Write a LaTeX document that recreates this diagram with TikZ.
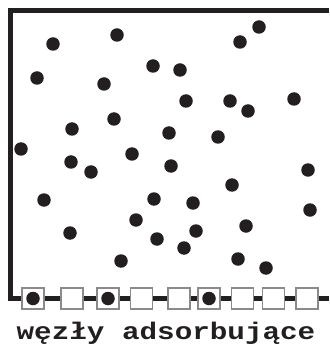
\documentclass[tikz,border=0pt]{standalone}
\usepackage{fontspec}
\newfontfamily\monob{Liberation Mono}[BoldFont={* Bold}]
\definecolor{ink}{HTML}{231F20}
\definecolor{boxedge}{HTML}{8A8A8A}
\begin{document}
\begin{tikzpicture}[x=1pt,y=-1pt,
  particle/.style={circle,fill=ink,inner sep=0pt,minimum size=13.5pt},
  site/.style={rectangle,draw=boxedge,line width=1.1pt,fill=white,inner sep=0pt,minimum width=22pt,minimum height=21pt},
  wall/.style={draw=ink,line width=4.6pt,line join=miter}]
\useasboundingbox (0,0) rectangle (329,347);
% frame corners
\coordinate (tr) at (329,10.4);
\coordinate (tl) at (10.6,10.4);
\coordinate (bl) at (10.6,298.5);
\coordinate (br) at (329,298.5);
\draw[wall] (tr) -- (tl) -- (bl) -- (br);
% adsorbing sites
\foreach \n/\x in {1/33,2/72,3/108,4/141.5,5/179,6/209,7/242.5,8/273.5,9/307}{
  \node[site] (s\n) at (\x,298.5) {};
}
\foreach \n in {1,3,6}{
  \node[particle] at (s\n) {};
}
% free particles
\foreach \n/\x/\y in {
 1/53/44, 2/117/35, 3/37/78, 4/104/84, 5/153/66, 6/180/70, 7/240/42, 8/259/27,
 9/186/101, 10/230/101, 11/248/111, 12/294/99, 13/72/129, 14/114/119, 15/169/133,
 16/218/137, 17/21/149, 18/71/162, 19/91/172, 20/132/154, 21/171/166, 22/308/170,
 23/44/200, 24/232/185, 25/154/199, 26/193/203, 27/310/210, 28/136/220, 29/70/233,
 30/157/239, 31/196/231, 32/184/248, 33/246/226, 34/121/261, 35/238/259, 36/266/268}{
  \node[particle] (p\n) at (\x,\y) {};
}
% caption
\node[inner sep=0pt,anchor=base,text=ink] (cap) at (166,339)
  {\scalebox{1.22}[1]{\monob\bfseries\fontsize{24}{24}\selectfont węzły adsorbujące}};
\end{tikzpicture}
\end{document}
